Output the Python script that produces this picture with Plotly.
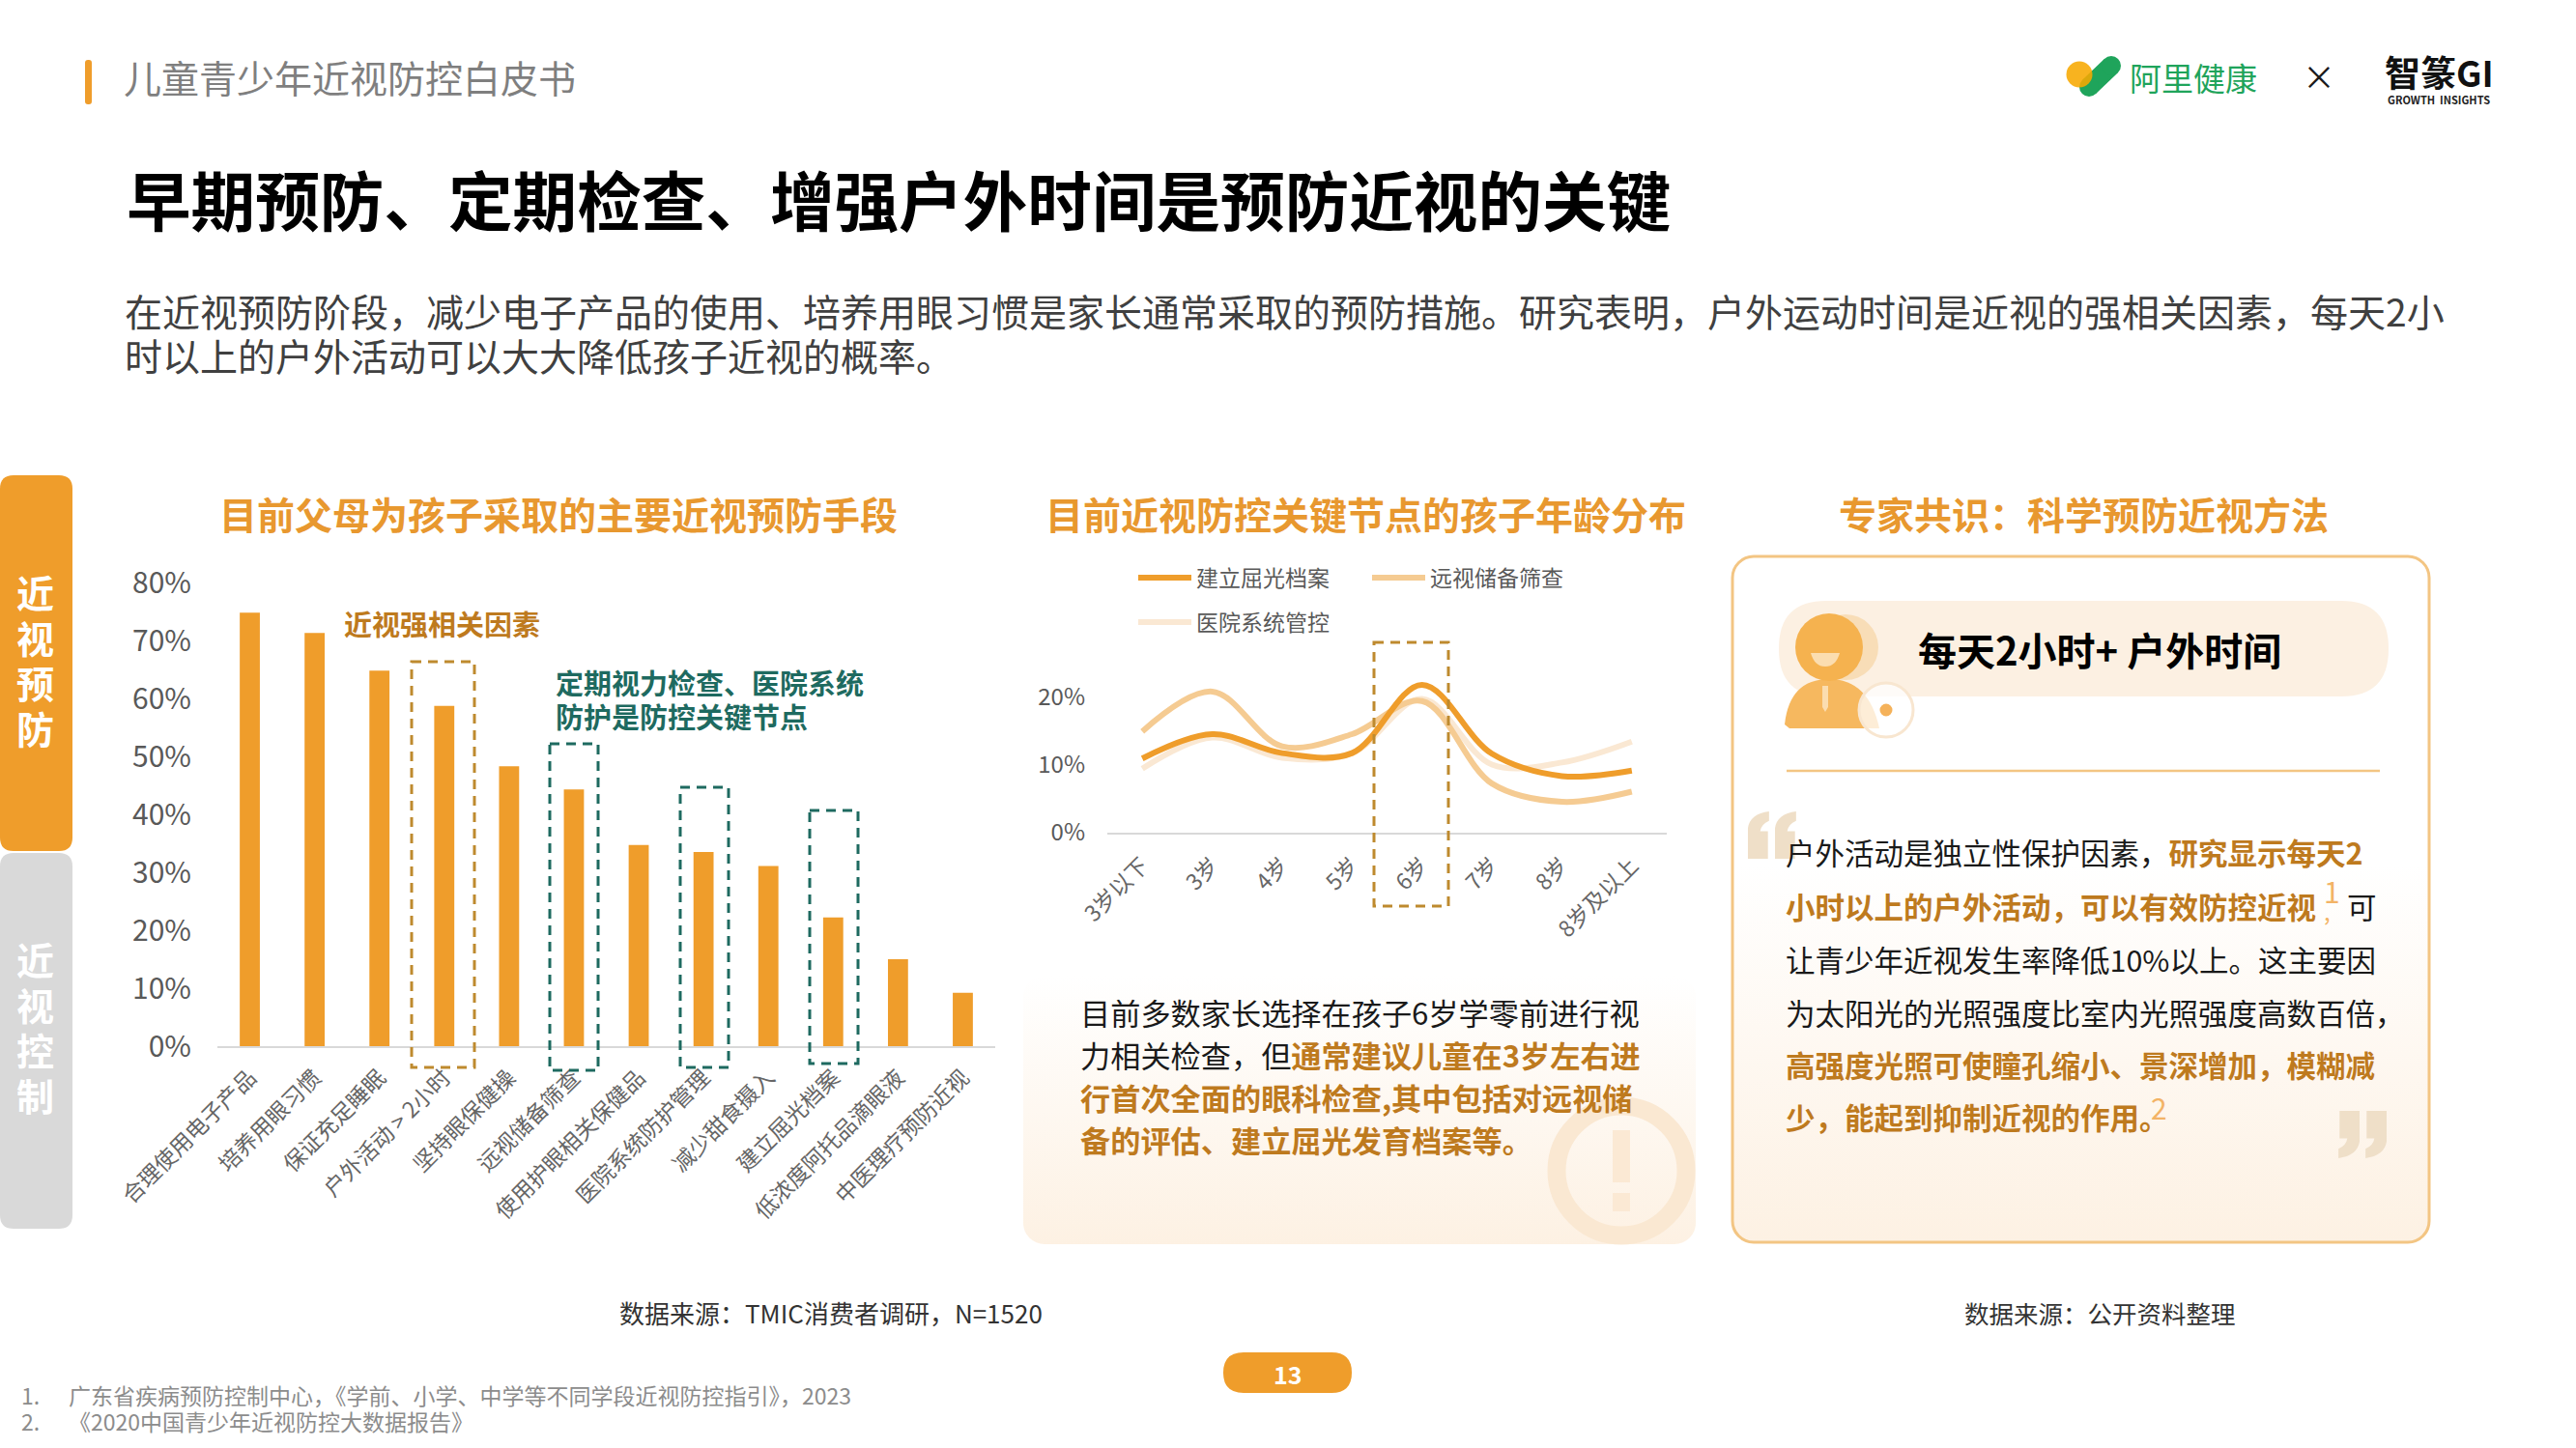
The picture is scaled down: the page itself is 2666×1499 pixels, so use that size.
import base64

import plotly.graph_objects as go

W, H = 2666, 1499
ORANGE = "#EF9D2B"
DARK_ORANGE = "#BE7A1E"
HEAD_ORANGE = "#E8982F"
TEAL = "#1E6A60"
FONT = "Noto Sans CJK SC"

# bar chart
measures = ["合理使用电子产品", "培养用眼习惯", "保证充足睡眠", "户外活动 > 2小时", "坚持眼保健操", "远视储备筛查",
            "使用护眼相关保健品", "医院系统防护管理", "减少甜食摄入", "建立屈光档案", "低浓度阿托品滴眼液", "中医理疗预防近视"]
measure_pct = [74.8, 71.3, 64.8, 58.7, 48.3, 44.3, 34.7, 33.5, 31.1, 22.2, 15.0, 9.2]
bar_ticks = [0, 10, 20, 30, 40, 50, 60, 70, 80]
bar_tick_labels = ["0%", "10%", "20%", "30%", "40%", "50%", "60%", "70%", "80%"]

# line chart
ages = ["3岁以下", "3岁", "4岁", "5岁", "6岁", "7岁", "8岁", "8岁及以上"]
refraction = [10.9, 14.5, 11.7, 11.7, 21.8, 11.6, 8.3, 9.1]
hyperopia = [14.9, 20.8, 12.7, 14.5, 19.4, 7.2, 4.5, 6.0]
hospital = [9.4, 14.0, 11.0, 11.7, 19.7, 10.0, 10.3, 13.4]
line_ticks = [0, 10, 20]
line_tick_labels = ["0%", "10%", "20%"]


def px(x):
    return x / W


def py(y):
    return 1 - y / H


def text(x, y, s, size, color="#1a1a1a", anchor="left", bold=False, angle=0):
    if bold:
        s = f"<b>{s}</b>"
    return dict(text=s, x=px(x), y=py(y), xref="paper", yref="paper", xanchor=anchor, yanchor="middle",
                showarrow=False, align=anchor, textangle=angle, font=dict(family=FONT, size=size, color=color))


def hl(s):
    return f'<span style="color:{DARK_ORANGE}"><b>{s}</b></span>'


def rect(x0, y0, x1, y1, fill=None, line=None, lw=0, dash=None):
    return dict(type="rect", xref="paper", yref="paper", x0=px(x0), y0=py(y0), x1=px(x1), y1=py(y1),
                fillcolor=fill or "rgba(0,0,0,0)", line=dict(color=line or "rgba(0,0,0,0)", width=lw, dash=dash))


def circle(cx, cy, r, fill=None, line=None, lw=0, ry=None):
    ry = ry or r
    return dict(type="circle", xref="paper", yref="paper", x0=px(cx - r), y0=py(cy - ry), x1=px(cx + r), y1=py(cy + ry),
                fillcolor=fill or "rgba(0,0,0,0)", line=dict(color=line or "rgba(0,0,0,0)", width=lw))


def path(cmds, fill=None, line=None, lw=0):
    # cmds is a list of (letter, x, y, x, y, ...) in page pixels
    parts = []
    for c in cmds:
        pts = c[1:]
        coords = " ".join(f"{px(pts[i]):.5f},{py(pts[i + 1]):.5f}" for i in range(0, len(pts), 2))
        parts.append(f"{c[0]} {coords}")
    return dict(type="path", xref="paper", yref="paper", path=" ".join(parts) + (" Z" if fill else ""),
                fillcolor=fill or "rgba(0,0,0,0)", line=dict(color=line or "rgba(0,0,0,0)", width=lw))


def round_rect(x0, y0, x1, y1, r, fill):
    return path([("M", x0 + r, y0), ("L", x1 - r, y0), ("Q", x1, y0, x1, y0 + r), ("L", x1, y1 - r),
                 ("Q", x1, y1, x1 - r, y1), ("L", x0 + r, y1), ("Q", x0, y1, x0, y1 - r), ("L", x0, y0 + r),
                 ("Q", x0, y0, x0 + r, y0)], fill=fill)


def quote_glyph(x, y, w, h, flip, fill):
    # one half of a quotation mark, flip turns it for the closing mark
    def P(a, b):
        return (x + w - a * w, y + h - b * h) if flip else (x + a * w, y + b * h)
    a = P(0.95, 0.0)
    b = P(0.0, 0.35)
    c = P(0.0, 1.0)
    d = P(0.9, 1.0)
    e = P(0.9, 0.42)
    f = P(0.55, 0.42)
    g = P(0.95, 0.2)
    return path([("M", *a), ("Q", *P(0.1, 0.05), *b), ("L", *c), ("L", *d), ("L", *e), ("L", *f),
                 ("Q", *P(0.6, 0.27), *g)], fill=fill)


def gradient_panel(x0, y0, x1, y1, r, stop, bottom, stroke=None):
    w, h = x1 - x0, y1 - y0
    if stroke:
        shape = f'<rect x="2" y="2" width="{w - 4}" height="{h - 4}" rx="{r}" fill="url(#g)" stroke="{stroke}" stroke-width="3"/>'
    else:
        shape = f'<rect x="0" y="0" width="{w}" height="{h}" rx="{r}" fill="url(#g)"/>'
    svg = (f'<svg xmlns="http://www.w3.org/2000/svg" width="{w}" height="{h}" viewBox="0 0 {w} {h}"><defs>'
           f'<linearGradient id="g" x1="0" y1="0" x2="0" y2="1"><stop offset="{stop}" stop-color="#ffffff"/>'
           f'<stop offset="1" stop-color="{bottom}"/></linearGradient></defs>{shape}</svg>')
    src = "data:image/svg+xml;base64," + base64.b64encode(svg.encode()).decode()
    return dict(source=src, xref="paper", yref="paper", x=px(x0), y=py(y0), sizex=w / W, sizey=h / H,
                xanchor="left", yanchor="top", sizing="stretch", layer="below")


fig = go.Figure()
fig.add_bar(x=measures, y=measure_pct, width=0.31, marker=dict(color=ORANGE, line_width=0), showlegend=False,
            xaxis="x", yaxis="y")
line_w = 6
fig.add_scatter(x=ages, y=hospital, name="医院系统管控", mode="lines", xaxis="x2", yaxis="y2", legend="legend3",
                line=dict(color="#FAE8D3", width=line_w, shape="spline", smoothing=1.0))
fig.add_scatter(x=ages, y=hyperopia, name="远视储备筛查", mode="lines", xaxis="x2", yaxis="y2", legend="legend2",
                line=dict(color="#F5CB92", width=line_w, shape="spline", smoothing=1.0))
fig.add_scatter(x=ages, y=refraction, name="建立屈光档案", mode="lines", xaxis="x2", yaxis="y2", legend="legend",
                line=dict(color=ORANGE, width=line_w, shape="spline", smoothing=1.0))

shapes = [
    # header
    round_rect(88, 62, 95, 108, 3, ORANGE),
    # side tabs
    round_rect(0, 492, 75, 881, 14, ORANGE),
    round_rect(0, 883, 75, 1272, 14, "#D9D9D9"),
    # page number pill
    round_rect(1266, 1400, 1399, 1442, 21, ORANGE),
    # dashed boxes, bar chart
    rect(426, 685, 491, 1105, line="#BE8A2E", lw=3, dash="10px,7px"),
    rect(569, 770, 619, 1108, line=TEAL, lw=3, dash="10px,7px"),
    rect(704, 815, 754, 1105, line=TEAL, lw=3, dash="10px,7px"),
    rect(838, 839, 888, 1101, line=TEAL, lw=3, dash="10px,7px"),
    # dashed box, line chart
    rect(1422, 665, 1499, 938, line="#BE8A2E", lw=3, dash="10px,7px"),
    # warning mark
    circle(1678, 1212, 67, line="#FAE8D2", lw=19),
    rect(1669, 1170, 1687, 1224, fill="#FBE9D4"),
    rect(1669, 1235, 1687, 1254, fill="#FBE9D4"),
    # logo
    path([("M", 2162, 90), ("L", 2185, 68)], line="#1FA45B", lw=20),
    circle(2162, 90, 10, fill="#1FA45B"),
    circle(2185, 68, 10, fill="#1FA45B"),
    circle(2152, 77, 13.5, fill="rgba(247,168,0,0.88)"),
    # pill + person
    round_rect(1841, 622, 2472, 721, 49, "#FCF0E2"),
    circle(1910, 670, 34, fill="#F8DDB7"),
    path([("M", 1847, 750), ("Q", 1852, 703, 1893, 703), ("Q", 1934, 703, 1945, 754), ("L", 1852, 754)], fill="#F6B85F"),
    circle(1893, 670, 35, fill="#F5B24F"),
    path([("M", 1874, 676), ("L", 1904, 676), ("Q", 1900, 690, 1889, 690), ("Q", 1878, 690, 1874, 676)], fill="#FBDDB0"),
    path([("M", 1886, 710), ("L", 1892, 710), ("L", 1892, 732), ("L", 1889, 737), ("L", 1886, 732)], fill="#FBDDB0"),
    circle(1952, 735, 28, fill="rgba(255,255,255,0.75)", line="#F8E6D0", lw=3),
    circle(1952, 735, 6.5, fill="#F5B25A"),
    # separator
    path([("M", 1849, 798), ("L", 2463, 798)], line="#F3C583", lw=2.5),
    # quote marks
    quote_glyph(1809, 840, 23, 49, False, "#EFDFC8"),
    quote_glyph(1837, 840, 23, 49, False, "#EFDFC8"),
    quote_glyph(2419, 1150, 23, 49, True, "#EFDFC8"),
    quote_glyph(2447, 1150, 23, 49, True, "#EFDFC8"),
]

images = [
    gradient_panel(1059, 1010, 1755, 1288, 22, 0.0, "#FDF1E3"),
    gradient_panel(1791, 574, 2516, 1288, 22, 0.45, "#FDF1E3", stroke="#F3C583"),
]

annotations = [
    text(126, 79, "儿童青少年近视防控白皮书", 39, "#7F7F7F"),
    text(129, 205, "早期预防、定期检查、增强户外时间是预防近视的关键", 66.6, "#000000", bold=True),
    text(127, 321, "在近视预防阶段，减少电子产品的使用、培养用眼习惯是家长通常采取的预防措施。研究表明，户外运动时间是近视的强相关因素，每天2小", 39, "#404040"),
    text(127, 367, "时以上的户外活动可以大大降低孩子近视的概率。", 39, "#404040"),
    # logos
    text(2270, 80, "阿里健康", 33, "#1FA45B", anchor="center"),
    text(2400, 78, "×", 34, "#1a1a1a", anchor="center"),
    text(2524, 74, "智篆GI", 37, "#111111", anchor="center", bold=True),
    text(2524, 103, "GROWTH  INSIGHTS", 11, "#222222", anchor="center", bold=True),
    # column headings
    text(578, 531, "目前父母为孩子采取的主要近视预防手段", 39, HEAD_ORANGE, anchor="center", bold=True),
    text(1413, 531, "目前近视防控关键节点的孩子年龄分布", 39, HEAD_ORANGE, anchor="center", bold=True),
    text(2156, 531, "专家共识：科学预防近视方法", 39, HEAD_ORANGE, anchor="center", bold=True),
    # callouts
    text(354, 645, "近视强相关因素", 29, DARK_ORANGE, bold=True),
    text(573, 706, "定期视力检查、医院系统", 29, TEAL, bold=True),
    text(573, 741, "防护是防控关键节点", 29, TEAL, bold=True),
    # line chart note
    text(1116, 1047, "目前多数家长选择在孩子6岁学零前进行视", 31.2),
    text(1116, 1091, "力相关检查，但" + hl("通常建议儿童在3岁左右进"), 31.2),
    text(1116, 1135, hl("行首次全面的眼科检查,其中包括对远视储"), 31.2),
    text(1116, 1179, hl("备的评估、建立屈光发育档案等。"), 31.2),
    # expert panel
    text(2173, 672, "每天2小时+ 户外时间", 40, "#000000", anchor="center", bold=True),
    text(1846, 882, "户外活动是独立性保护因素，" + hl("研究显示每天2"), 30.5),
    text(1846, 938, hl("小时以上的户外活动，可以有效防控近视"), 30.5),
    text(2403, 922, "1", 30, "#F3B366"),
    text(2403, 942, ",", 24, "#F3B366"),
    text(2427, 938, "可", 30.5, anchor="left"),
    text(1846, 993, "让青少年近视发生率降低10%以上。这主要因", 30.5),
    text(1846, 1048, "为太阳光的光照强度比室内光照强度高数百倍，", 30.5),
    text(1846, 1102, hl("高强度光照可使瞳孔缩小、景深增加，模糊减"), 30.5),
    text(1846, 1156, hl("少，能起到抑制近视的作用。"), 30.5),
    text(2224, 1146, "2", 30, "#F3B366"),
    # sources and footnotes
    text(860, 1358, "数据来源：TMIC消费者调研，N=1520", 26, "#333333", anchor="center"),
    text(2173, 1358, "数据来源：公开资料整理", 25.5, "#333333", anchor="center"),
    text(1333, 1422, "13", 25, "#ffffff", anchor="center", bold=True),
    text(20, 1444, "1.", 23, "#8C8C8C"),
    text(69, 1444, "广东省疾病预防控制中心，《学前、小学、中学等不同学段近视防控指引》，2023", 23, "#8C8C8C"),
    text(20, 1471, "2.", 23, "#8C8C8C"),
    text(69, 1471, "《2020中国青少年近视防控大数据报告》", 23, "#8C8C8C"),
]
for ch, y in zip("近视预防", [612, 659, 706, 753]):
    annotations.append(text(36, y, ch, 39, "#ffffff", anchor="center", bold=True))
for ch, y in zip("近视控制", [992, 1039, 1086, 1133]):
    annotations.append(text(36, y, ch, 39, "#ffffff", anchor="center", bold=True))


def legend_at(x, y):
    return dict(x=px(x), y=py(y), xanchor="left", yanchor="middle", bgcolor="rgba(0,0,0,0)", itemwidth=55,
                font=dict(family=FONT, size=23, color="#595959"))


fig.update_layout(
    width=W, height=H, margin=dict(l=0, r=0, t=0, b=0, pad=0, autoexpand=False), autosize=False,
    paper_bgcolor="#ffffff", plot_bgcolor="rgba(0,0,0,0)",
    shapes=shapes, images=images, annotations=annotations,
    font=dict(family=FONT, color="#595959"),
    legend=legend_at(1173, 598), legend2=legend_at(1415, 598), legend3=legend_at(1173, 644),
    xaxis=dict(domain=[px(225), px(1030)], anchor="y", type="category", tickangle=-45, ticks="", ticklabelstandoff=8,
               tickfont=dict(size=23, color="#666666"), showline=True, linecolor="#D9D9D9", linewidth=2, showgrid=False,
               range=[-0.5, 11.5], zeroline=False),
    yaxis=dict(domain=[py(1083), py(603)], anchor="x", range=[0, 80], tickvals=bar_ticks, ticktext=bar_tick_labels, ticks="",
               ticklabelstandoff=26, tickfont=dict(size=30, color="#595959"), showgrid=False, zeroline=False),
    xaxis2=dict(domain=[px(1146), px(1725)], anchor="y2", type="category", tickangle=-45, ticks="", ticklabelstandoff=10,
                tickfont=dict(size=23, color="#666666"), showline=True, linecolor="#D9D9D9", linewidth=2, showgrid=False,
                range=[-0.5, 7.5], zeroline=False),
    yaxis2=dict(domain=[py(861.5), py(686.5)], anchor="x2", range=[0, 25], tickvals=line_ticks, ticktext=line_tick_labels, ticks="",
                ticklabelstandoff=22, tickfont=dict(size=24, color="#595959"), showgrid=False, zeroline=False),
)

fig.write_html("out.html", config=dict(displayModeBar=False), post_script="document.body.style.margin='0';")
